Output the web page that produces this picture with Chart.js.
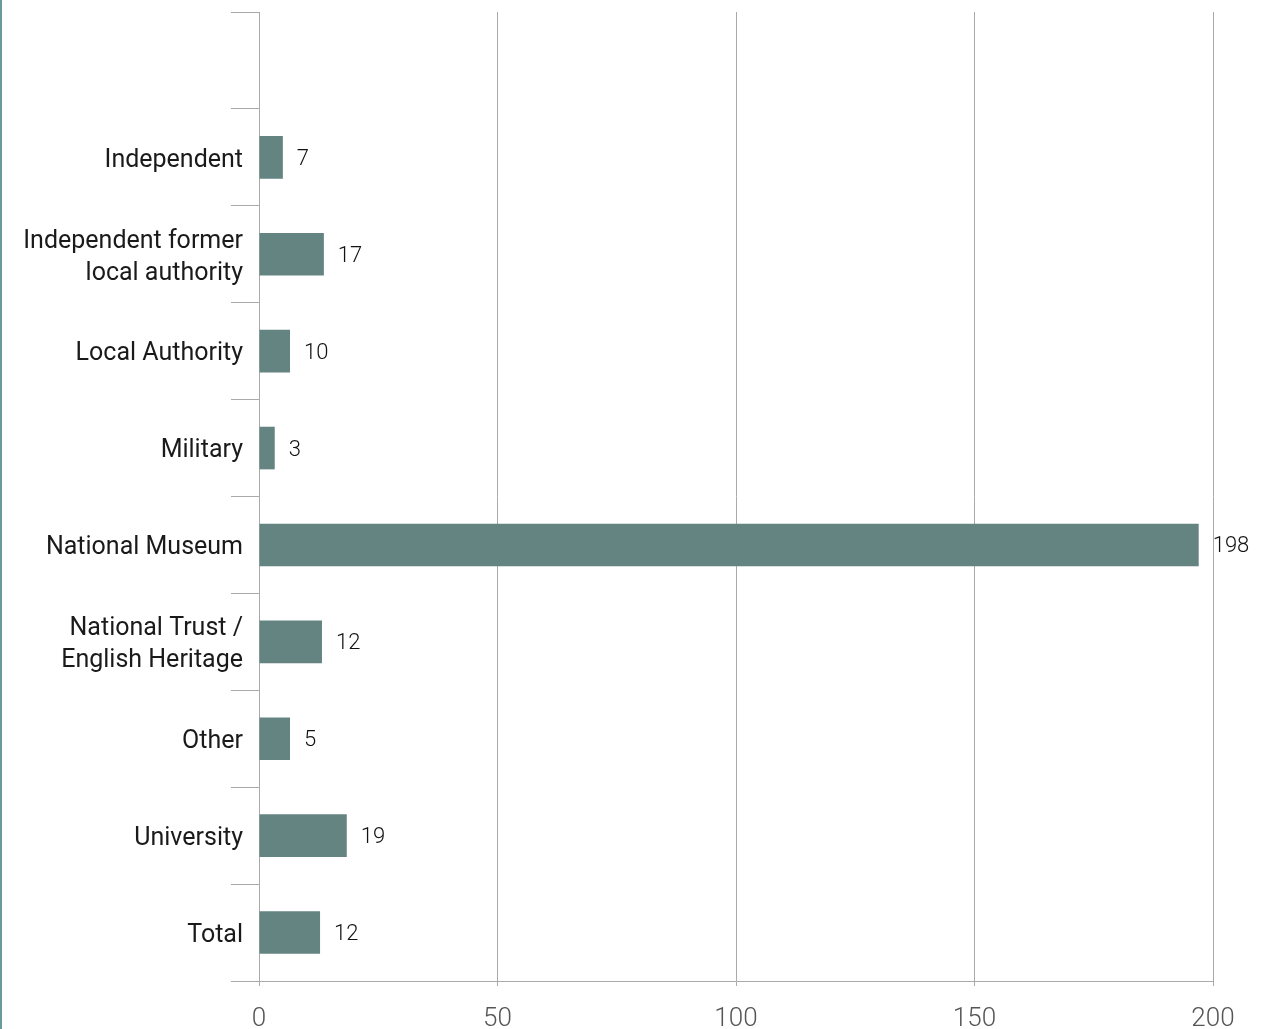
<!DOCTYPE html>
<html>
<head>
<meta charset="utf-8">
<script src="https://cdn.jsdelivr.net/npm/chart.js@4"></script>
<style>
  html, body { margin: 0; padding: 0; background: #fff; }
  #wrap { position: relative; width: 1267px; height: 1029px; }
  #edge { position: absolute; left: 0; top: 0; width: 2px; height: 1029px; background: #6b9a9c; }
</style>
</head>
<body>
<div id="wrap">
  <div id="edge"></div>
  <canvas id="myChart" width="1267" height="1029"></canvas>
</div>
<script>
const categories = [
  "",
  "Independent",
  ["Independent former", "local authority"],
  "Local Authority",
  "Military",
  "National Museum",
  ["National Trust /", "English Heritage"],
  "Other",
  "University",
  "Total"
];
// bar lengths as drawn
const barLengths = [null, 5, 13.6, 6.5, 3.3, 197, 13.2, 6.5, 18.4, 12.8];
// numbers printed next to the bars
const valueLabels = ["", "7", "17", "10", "3", "198", "12", "5", "19", "12"];
const xTicks = [0, 50, 100, 150, 200];

const FONT = "Roboto";
const ctx = document.querySelector("#myChart");

const valueLabelPlugin = {
  id: "valueLabels",
  afterDatasetsDraw(chart) {
    const c = chart.ctx;
    const meta = chart.getDatasetMeta(0);
    c.save();
    c.font = "300 22px " + FONT;
    c.fillStyle = "#111";
    c.textAlign = "left";
    c.textBaseline = "middle";
    meta.data.forEach((bar, i) => {
      if (!valueLabels[i]) return;
      c.fillText(valueLabels[i], bar.x + 14, bar.y + 2);
    });
    c.restore();
  }
};

const chart = new Chart(ctx, {
  type: "bar",
  data: {
    labels: categories,
    datasets: [{
      data: barLengths,
      backgroundColor: "#638481",
      borderWidth: 0,
      categoryPercentage: 1,
      barPercentage: 0.44
    }]
  },
  options: {
    indexAxis: "y",
    responsive: false,
    animation: false,
    layout: { padding: { top: 12, right: 54, left: 0, bottom: 0 } },
    plugins: { legend: { display: false }, tooltip: { enabled: false } },
    scales: {
      x: {
        min: 0,
        max: 200,
        afterBuildTicks: (axis) => { axis.ticks = xTicks.map(v => ({ value: v })); },
        grid: { color: "#aaa", lineWidth: 1, tickLength: 5 },
        border: { color: "#aaa" },
        ticks: { color: "#555", font: { family: FONT, size: 26, weight: 300 }, padding: 18 },
        afterFit: (axis) => { axis.height = 48; }
      },
      y: {
        grid: { color: "#aaa", drawOnChartArea: false, tickLength: 28, offset: true },
        border: { color: "#aaa" },
        ticks: {
          color: "#1a1a1a",
          font: { family: FONT, size: 25, weight: 400, lineHeight: 1.28 },
          padding: -12,
          labelOffset: 3
        },
        afterFit: (axis) => { axis.width = 259; }
      }
    }
  },
  plugins: [valueLabelPlugin]
});
</script>
</body>
</html>
